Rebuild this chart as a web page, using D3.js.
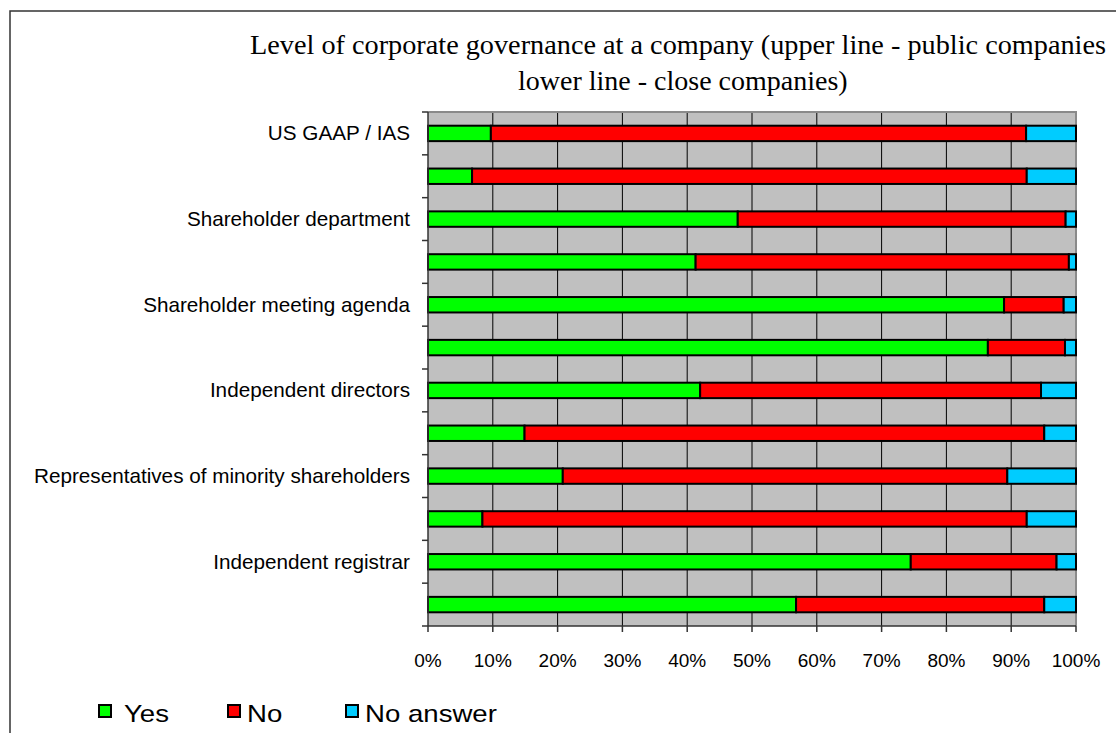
<!DOCTYPE html>
<html>
<head>
<meta charset="utf-8">
<script src="https://cdn.jsdelivr.net/npm/d3@7"></script>
<style>
  html, body { margin: 0; padding: 0; background: #fff; }
  svg { display: block; }
</style>
</head>
<body>
<svg id="chart" width="1116" height="733"></svg>
<script>
// ---- data ----
const categories = [
  "US GAAP / IAS", "",
  "Shareholder department", "",
  "Shareholder meeting agenda", "",
  "Independent directors", "",
  "Representatives of minority shareholders", "",
  "Independent registrar", ""
];
const seriesNames = ["Yes", "No", "No answer"];
const yesValues      = [9.7, 6.8, 47.8, 41.3, 88.9, 86.4, 42.0, 14.9, 20.8, 8.4, 74.5, 56.8];
const noValues       = [82.6, 85.6, 50.6, 57.6, 9.2, 11.9, 52.6, 80.2, 68.6, 84.0, 22.5, 38.3];
const noAnswerValues = [7.7, 7.6, 1.6, 1.1, 1.9, 1.7, 5.4, 4.9, 10.6, 7.6, 3.0, 4.9];
const xTickValues = [0, 10, 20, 30, 40, 50, 60, 70, 80, 90, 100];
const titleLines = [
  "Level of corporate governance at a company (upper line - public companies",
  "lower line - close companies)"
];

// ---- layout ----
const colors = ["#00FF00", "#FF0000", "#00CCFF"];
const plot = { left: 428, right: 1076, top: 112, bottom: 626 };

const svg = d3.select("#chart");

// outer chart border (extends beyond the visible area)
svg.append("rect")
  .attr("x", 10).attr("y", 11)
  .attr("width", 1300).attr("height", 900)
  .attr("fill", "#fff")
  .attr("stroke", "#333").attr("stroke-width", 1.5);

// title
svg.append("text")
  .attr("x", 250).attr("y", 54)
  .attr("font-family", "'Times New Roman', 'Liberation Serif', serif")
  .attr("font-size", 28).attr("fill", "#000")
  .attr("textLength", 856).attr("lengthAdjust", "spacingAndGlyphs")
  .text(titleLines[0]);
svg.append("text")
  .attr("x", 518).attr("y", 90)
  .attr("font-family", "'Times New Roman', 'Liberation Serif', serif")
  .attr("font-size", 28).attr("fill", "#000")
  .text(titleLines[1]);

// scales
const x = d3.scaleLinear().domain([0, 100]).range([plot.left, plot.right]);
const idx = d3.range(categories.length);
const y = d3.scaleBand().domain(idx).range([plot.top, plot.bottom])
  .paddingInner(0.64).paddingOuter(0.32);

// plot background
svg.append("rect")
  .attr("x", plot.left).attr("y", plot.top)
  .attr("width", plot.right - plot.left).attr("height", plot.bottom - plot.top)
  .attr("fill", "#C0C0C0");

// vertical gridlines
svg.append("g").selectAll("line")
  .data(xTickValues.filter(v => v > 0 && v < 100))
  .join("line")
  .attr("x1", d => x(d)).attr("x2", d => x(d))
  .attr("y1", plot.top).attr("y2", plot.bottom)
  .attr("stroke", "#000").attr("stroke-width", 1);

// plot border: top & right gray
svg.append("path")
  .attr("d", `M${plot.left},${plot.top}H${plot.right}V${plot.bottom}`)
  .attr("fill", "none").attr("stroke", "#8a8a8a").attr("stroke-width", 2);

// stacked bars
const rows = idx.map(i => ({ i, values: [yesValues[i], noValues[i], noAnswerValues[i]] }));
const stackData = rows.map(r => {
  let acc = 0;
  return r.values.map((v, s) => { const seg = { i: r.i, s, x0: acc, x1: acc + v }; acc += v; return seg; });
}).flat();

svg.append("g").selectAll("rect")
  .data(stackData)
  .join("rect")
  .attr("x", d => x(d.x0))
  .attr("y", d => y(d.i))
  .attr("width", d => x(d.x1) - x(d.x0))
  .attr("height", y.bandwidth())
  .attr("fill", d => colors[d.s])
  .attr("stroke", "#000").attr("stroke-width", 2);

// left axis line and ticks at band boundaries
const axisColor = "#333";
svg.append("line")
  .attr("x1", plot.left).attr("x2", plot.left)
  .attr("y1", plot.top).attr("y2", plot.bottom)
  .attr("stroke", axisColor).attr("stroke-width", 1.5);
svg.append("g").selectAll("line")
  .data(d3.range(categories.length + 1))
  .join("line")
  .attr("x1", plot.left - 6).attr("x2", plot.left)
  .attr("y1", k => y.range()[0] + k * y.step())
  .attr("y2", k => y.range()[0] + k * y.step())
  .attr("stroke", axisColor).attr("stroke-width", 1.5);

// category labels
svg.append("g").selectAll("text")
  .data(idx.filter(i => categories[i] !== ""))
  .join("text")
  .attr("x", 410)
  .attr("y", i => y(i) + y.bandwidth() / 2 + 7)
  .attr("text-anchor", "end")
  .attr("font-family", "Arial, 'Liberation Sans', sans-serif")
  .attr("font-size", 20.7).attr("fill", "#000")
  .text(i => categories[i]);

// bottom axis
svg.append("line")
  .attr("x1", plot.left).attr("x2", plot.right)
  .attr("y1", plot.bottom).attr("y2", plot.bottom)
  .attr("stroke", axisColor).attr("stroke-width", 1.5);
svg.append("g").selectAll("line")
  .data(xTickValues)
  .join("line")
  .attr("x1", d => x(d)).attr("x2", d => x(d))
  .attr("y1", plot.bottom).attr("y2", plot.bottom + 6)
  .attr("stroke", axisColor).attr("stroke-width", 1.5);
svg.append("g").selectAll("text")
  .data(xTickValues)
  .join("text")
  .attr("x", d => x(d))
  .attr("y", 667)
  .attr("text-anchor", "middle")
  .attr("font-family", "Arial, 'Liberation Sans', sans-serif")
  .attr("font-size", 19).attr("fill", "#000")
  .text(d => d + "%");

// legend
const legendSquareX = [99, 228, 346];
const legendTextX = [124, 247, 365];
const lg = svg.append("g");
lg.selectAll("rect")
  .data(seriesNames)
  .join("rect")
  .attr("x", (d, i) => legendSquareX[i]).attr("y", 705)
  .attr("width", 12).attr("height", 12)
  .attr("fill", (d, i) => colors[i])
  .attr("stroke", "#000").attr("stroke-width", 2);
lg.selectAll("text")
  .data(seriesNames)
  .join("text")
  .attr("x", (d, i) => legendTextX[i]).attr("y", 722)
  .attr("font-family", "Arial, 'Liberation Sans', sans-serif")
  .attr("font-size", 24).attr("fill", "#000")
  .attr("transform", (d, i) => `translate(${legendTextX[i]},0) scale(1.15,1) translate(${-legendTextX[i]},0)`)
  .text(d => d);
</script>
</body>
</html>
